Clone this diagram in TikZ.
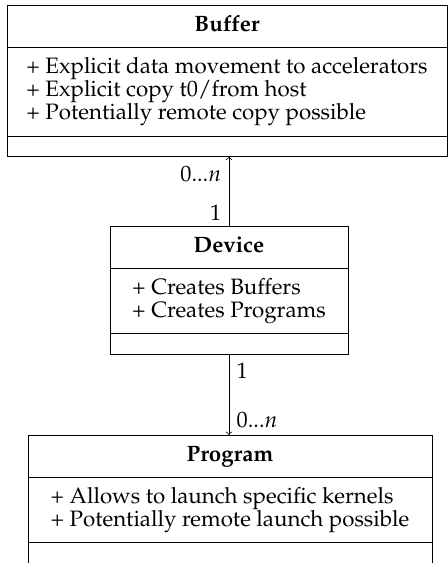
\documentclass[tikz,border=0pt]{standalone}
\usepackage[T1]{fontenc}
\usepackage{mathpazo}
\usetikzlibrary{shapes.multipart}
\tikzset{
    classbox/.style = {rectangle split, rectangle split parts=3, draw=black, thin, align=left,
                       inner ysep=3.1pt, inner xsep=0pt, rectangle split part align={center}},
    mult/.style = {inner sep=4pt}
}
\newcommand{\titlestrut}{\rule[-5pt]{0pt}{16pt}}
\newcommand{\topstrut}{\rule{0pt}{10.9pt}}
\newcommand{\botstrut}{\rule[-5.6pt]{0pt}{0pt}}

\begin{document}
\begin{tikzpicture}[x=0.543pt, y=-0.543pt, >=to, font=\fontsize{12.1pt}{12.65pt}\selectfont]
    \useasboundingbox (0,0) rectangle (448,563);
    \node [classbox, minimum width=238.9pt, anchor=north] (buffer) at (227,5)
        {\textbf{Buffer}\titlestrut
         \nodepart{two}\topstrut + Explicit data movement to accelerators\\
         + Explicit copy t0/from host\\
         + Potentially remote copy possible\botstrut
         \nodepart{three}};
    \node [classbox, minimum width=129.2pt, anchor=north] (device) at (229,226)
        {\textbf{Device}\titlestrut
         \nodepart{two}\topstrut + Creates Buffers\\
         + Creates Programs\botstrut
         \nodepart{three}};
    \node [classbox, minimum width=219.4pt, anchor=north] (program) at (230,435)
        {\textbf{Program}\titlestrut
         \nodepart{two}\topstrut + Allows to launch specific kernels\\
         + Potentially remote launch possible\botstrut
         \nodepart{three}};
    % associations
    \draw [->] (device.north) -- (device.north |- buffer.south)
        node [mult, left, pos=0.19] {1}
        node [mult, left, pos=0.75] {$0...n$};
    \draw [->] (device.south) -- (device.south |- program.north)
        node [mult, right, pos=0.21] {1}
        node [mult, right, pos=0.82] {$0...n$};
\end{tikzpicture}
\end{document}
